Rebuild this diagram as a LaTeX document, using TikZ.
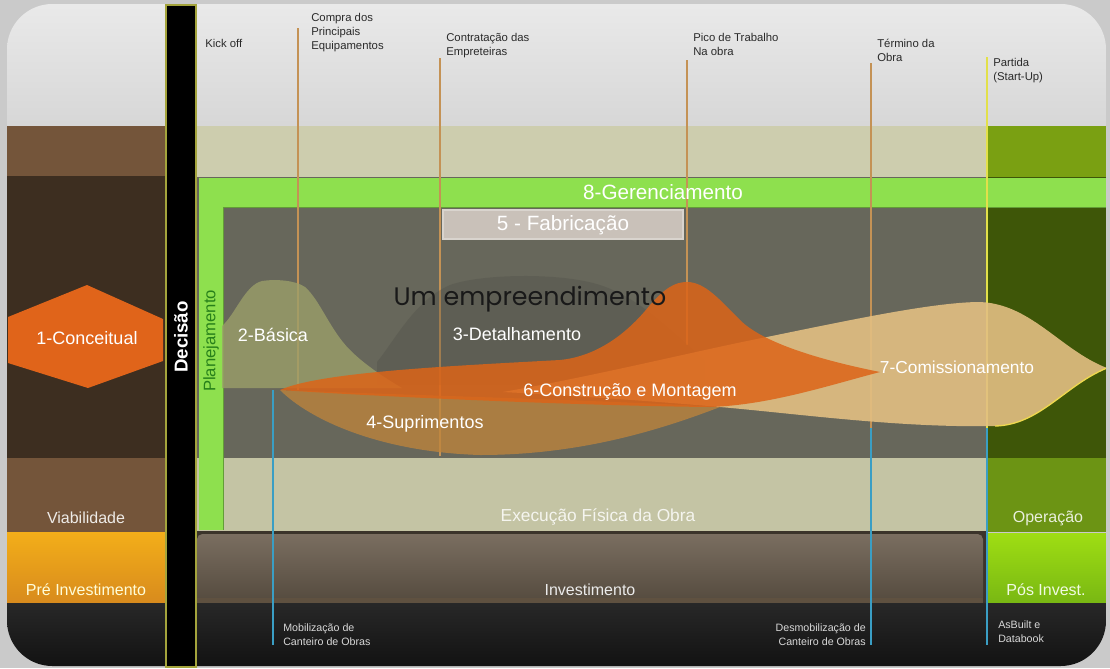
\documentclass[tikz,border=0pt]{standalone}
\usepackage{fontspec}
\setmainfont{Liberation Sans}
\newfontfamily\geofont{Poppins}
\definecolor{framegrey}{HTML}{CACACA}
\definecolor{topgrey}{HTML}{E2E2E2}
\definecolor{brownmid}{HTML}{74553A}
\definecolor{browndark}{HTML}{3D2E20}
\definecolor{khaki}{HTML}{CDCDAE}
\definecolor{khakilow}{HTML}{C4C4A4}
\definecolor{maingrey}{HTML}{67675B}
\definecolor{plangreen}{HTML}{8EE04E}
\definecolor{plantext}{HTML}{27801A}
\definecolor{optop}{HTML}{7AA012}
\definecolor{opdark}{HTML}{3E5608}
\definecolor{opgreen}{HTML}{6C9414}
\definecolor{posgreen}{HTML}{8ED816}
\definecolor{preorange}{HTML}{F09A20}
\definecolor{investtop}{HTML}{7A6E60}
\definecolor{investbot}{HTML}{544A3E}
\definecolor{bottomblack}{HTML}{1A1A1A}
\definecolor{decborder}{HTML}{A4A43C}
\definecolor{tanline}{HTML}{C49255}
\definecolor{yellowline}{HTML}{E2E04A}
\definecolor{blueline}{HTML}{3A9EC4}
\definecolor{conceitual}{HTML}{E0641A}
\definecolor{basica}{HTML}{9CA06A}
\definecolor{detalhe}{HTML}{4C4C44}
\definecolor{suprimento}{HTML}{BE843C}
\definecolor{comissao}{HTML}{E3BF82}
\definecolor{construcao}{HTML}{DC6418}
\definecolor{fabgrey}{HTML}{C9C1B9}
\definecolor{toptext}{HTML}{2A2A2A}
\definecolor{bottext}{HTML}{D8D8D8}
\begin{document}
\begin{tikzpicture}[x=0.75pt,y=0.75pt,yscale=-1,xscale=1,
    toplbl/.style={anchor=north west,inner sep=0pt,align=left,text=toptext,font=\fontsize{8.5}{10.5}\selectfont},
    botlbl/.style={anchor=north west,inner sep=0pt,align=left,text=bottext,font=\fontsize{8}{10.5}\selectfont},
    bandlbl/.style={inner sep=0pt,font=\fontsize{12}{14}\selectfont},
    phaselbl/.style={inner sep=0pt,text=white,font=\fontsize{13.5}{16}\selectfont},
    milestone/.style={draw=tanline,line width=1.3pt},
    siteline/.style={draw=blueline,line width=1.3pt}]
        \useasboundingbox (0,0) rectangle (1110,668);
        \fill[framegrey] (0,0) rectangle (1110,668);
        \begin{scope}
        \clip[rounded corners=34pt] (7,4) rectangle (1106,666);
        %Shape: Rectangle [top area]
        \shade[top color=topgrey!75!white,bottom color=topgrey!95!black] (7,4) rectangle (1106,126);
        %Shape: Rectangle [left column]
        \fill[brownmid] (7,126) rectangle (165,176);
        \fill[browndark] (7,176) rectangle (165,458);
        \fill[brownmid] (7,458) rectangle (165,532);
        \shade[top color=preorange!80!yellow,bottom color=preorange!90!black] (7,532) rectangle (165,603);
        %Shape: Rectangle [middle column]
        \fill[khaki] (196,126) rectangle (988,177);
        \fill[maingrey] (196,177) rectangle (988,458);
        \fill[khakilow] (196,458) rectangle (988,531);
        \fill[investbot!70!black] (196,531) rectangle (988,603);
        \shade[top color=investtop,bottom color=investbot,rounded corners=4pt] (197,534) rectangle (983,603);
        \fill[investtop!120!white] (197,598) rectangle (983,603);
        %Shape: Rectangle [right column]
        \fill[optop] (988,126) rectangle (1106,177);
        \fill[opdark] (988,177) rectangle (1106,458);
        \fill[opgreen] (988,458) rectangle (1106,532);
        \shade[top color=posgreen!85!yellow,bottom color=posgreen!85!black] (988,533) rectangle (1106,603);
        %Shape: Rectangle [bottom strip]
        \shade[top color=bottomblack!94!white,bottom color=bottomblack!70!black] (7,603) rectangle (1106,666);
        %Shape: Rectangle [planejamento and gerenciamento]
        \fill[plangreen] (199,178) rectangle (223,530);
        \fill[plangreen] (223,178) rectangle (1106,207);
        \draw[plangreen!70!black,line width=0.6pt] (223,530) -- (223,207) -- (1106,207);

        %Straight Lines [milestones]
        \draw[milestone] (298,28) -- (298,390);
        \draw[milestone] (440,58) -- (440,456);
        \draw[milestone] (687,60) -- (687,345);
        \draw[milestone] (871,63) -- (871,428);
        \draw[yellowline,line width=1.3pt] (987,57) -- (987,428);
        \draw[siteline] (273,390) -- (273,645);
        \draw[siteline] (871,428) -- (871,645);
        \draw[siteline] (987,428) -- (987,645);

        %Curve Lines [3-Detalhamento]
        \fill[detalhe,fill opacity=0.3] (377,385) -- (377,362) .. controls (395,340) and (415,300) .. (450,285) .. controls (480,274) and (560,272) .. (600,285) .. controls (640,298) and (670,330) .. (705,360) -- (705,385) -- cycle;
        %Curve Lines [2-Basica]
        \fill[basica,fill opacity=0.78] (222,388) -- (222,326) .. controls (235,315) and (245,285) .. (262,281) .. controls (275,279) and (295,280) .. (305,287) .. controls (320,300) and (330,330) .. (350,350) .. controls (365,365) and (385,378) .. (402,388) -- cycle;
        %Curve Lines [4-Suprimentos]
        \fill[suprimento,fill opacity=0.78] (280,390) .. controls (310,420) and (380,452) .. (480,455) .. controls (580,455) and (660,430) .. (720,407) .. controls (600,400) and (400,395) .. (280,390) -- cycle;
        %Curve Lines [7-Comissionamento]
        \fill[comissao,fill opacity=0.9] (503,392) .. controls (600,375) and (700,350) .. (767,337) .. controls (850,320) and (930,303) .. (977,302) .. controls (1030,302) and (1060,350) .. (1107,368) .. controls (1065,385) and (1040,425) .. (995,426) .. controls (900,428) and (800,414) .. (720,407) .. controls (640,400) and (560,395) .. (503,392) -- cycle;
        \draw[comissao!60!yellow,line width=1pt] (1107,368) .. controls (1065,385) and (1040,425) .. (995,426);
        %Curve Lines [6-Construcao]
        \fill[construcao,fill opacity=0.85] (280,390) .. controls (320,372) and (450,366) .. (560,360) .. controls (600,356) and (630,330) .. (650,305) .. controls (665,288) and (675,282) .. (687,282) .. controls (705,282) and (720,300) .. (740,320) .. controls (765,345) and (830,362) .. (880,372) .. controls (830,385) and (770,405) .. (710,407) .. controls (600,406) and (400,398) .. (280,390) -- cycle;
        \end{scope}

        %Shape: Rectangle [decisao bar]
        \draw[decborder,line width=1.5pt,fill=black] (166,5) rectangle (196,667);
        %Shape: Hexagon [1-Conceitual]
        \fill[conceitual] (8,317) -- (87,285) -- (163,319) -- (163,361) -- (88,388) -- (8,363) -- cycle;
        %Shape: Rectangle [5 - Fabricacao]
        \draw[fabgrey!70!white,line width=0.8pt,fill=fabgrey] (443,210) rectangle (683,239);

        % Text Node
        \draw (205,39) node (kickoff) [toplbl] {Kick off};
        % Text Node
        \draw (311,13) node (compra) [toplbl] {Compra dos\\Principais\\Equipamentos};
        % Text Node
        \draw (446,33) node (contrata) [toplbl] {Contratação das\\Empreteiras};
        % Text Node
        \draw (693,33) node (pico) [toplbl] {Pico de Trabalho\\Na obra};
        % Text Node
        \draw (877,39) node (termino) [toplbl] {Término da\\Obra};
        % Text Node
        \draw (993,58) node (partida) [toplbl] {Partida\\(Start-Up)};
        % Text Node
        \draw (283,623) node (mobiliza) [botlbl] {Mobilização de\\Canteiro de Obras};
        % Text Node
        \draw (866,623) node (desmobiliza) [botlbl,anchor=north east,align=right] {Desmobilização de\\Canteiro de Obras};
        % Text Node
        \draw (998,620) node (asbuilt) [botlbl] {AsBuilt e\\Databook};
        % Text Node
        \draw (86,518) node (viab) [bandlbl,text=white!88!brownmid] {Viabilidade};
        % Text Node
        \draw (86,590) node (preinv) [bandlbl,text=white!85!yellow] {Pré Investimento};
        % Text Node
        \draw (598,517) node (execucao) [bandlbl,font=\fontsize{13}{15}\selectfont,text=white!80!khaki] {Execução Física da Obra};
        % Text Node
        \draw (590,590) node (invest) [bandlbl,text=white!92!black] {Investimento};
        % Text Node
        \draw (1048,518) node (operacao) [bandlbl,text=white!85!opgreen] {Operação};
        % Text Node
        \draw (1046,590) node (posinv) [bandlbl,text=white!88!posgreen] {Pós Invest.};
        % Text Node
        \draw (181,337) node (decisao) [inner sep=0pt,rotate=90,text=white,font=\fontsize{14}{16}\selectfont\bfseries] {Decisão};
        % Text Node
        \draw (211,341) node (planeja) [inner sep=0pt,rotate=90,text=plantext,font=\fontsize{12.5}{14}\selectfont] {Planejamento};
        % Text Node
        \draw (663,192) node (gerencia) [phaselbl,font=\fontsize{15.5}{18}\selectfont] {8-Gerenciamento};
        % Text Node
        \draw (563,225) node (fabrica) [phaselbl,font=\fontsize{15.5}{18}\selectfont] {5 - Fabricação};
        % Text Node
        \draw (530,299) node (empreend) [inner sep=0pt,text=black!90,font=\geofont\fontsize{19}{22}\selectfont] {Um empreendimento};
        % Text Node
        \draw (87,338) node (conc) [phaselbl] {1-Conceitual};
        % Text Node
        \draw (273,335) node (basic) [phaselbl] {2-Básica};
        % Text Node
        \draw (517,334) node (detal) [phaselbl] {3-Detalhamento};
        % Text Node
        \draw (425,424) node (supri) [phaselbl] {4-Suprimentos};
        % Text Node
        \draw (630,392) node (constr) [phaselbl] {6-Construção e Montagem};
        % Text Node
        \draw (957,367) node (comis) [phaselbl,font=\fontsize{13}{15}\selectfont] {7-Comissionamento};
    \end{tikzpicture}
\end{document}
